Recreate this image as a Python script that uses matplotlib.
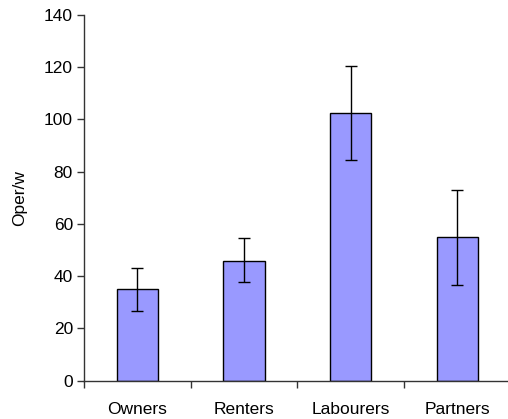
import matplotlib
matplotlib.use("Agg")
import matplotlib.pyplot as plt
import numpy as np

categories = ["Owners", "Renters", "Labourers", "Partners"]
values = [35.0, 45.9, 102.6, 55.0]
err_low = [26.8, 37.7, 84.4, 36.6]
err_high = [43.3, 54.5, 120.5, 73.1]
yticks = [0, 20, 40, 60, 80, 100, 120, 140]

plt.rcParams['font.family'] = ['Liberation Sans', 'DejaVu Sans']
FS = 12.5

fig = plt.figure(figsize=(5.08, 4.19), dpi=100)
ax = fig.add_axes([84/508, 38.3/419, 1 - 84/508, (380.7-15)/419])

x = np.arange(len(categories))
vals = np.array(values)
yerr = np.array([vals - np.array(err_low), np.array(err_high) - vals])
ax.bar(x, vals, width=0.39, color="#9999FF", edgecolor="black", linewidth=1.0, zorder=2)
ax.errorbar(x, vals, yerr=yerr, fmt="none", ecolor="black", elinewidth=1.0,
            capsize=4.3, capthick=1.0, zorder=3)

ax.set_xlim(-0.5, 3.475)
ax.set_ylim(0, 140)
ax.set_yticks(yticks)
ax.set_xticks(x)
ax.set_xticklabels(categories, fontsize=FS)
ax.set_xticks(np.arange(-0.5, 3.5, 1.0), minor=True)
ax.tick_params(axis='x', which='major', length=0, pad=15)
ax.tick_params(axis='x', which='minor', length=5, direction='out', width=1, color='#333333')
ax.tick_params(axis='y', length=5, direction='out', width=1, labelsize=FS, pad=3, color='#333333')
ax.set_ylabel("Oper/w", fontsize=FS, labelpad=12)

for s in ['top', 'right']:
    ax.spines[s].set_visible(False)
for s in ['left', 'bottom']:
    ax.spines[s].set_color('#333333')
    ax.spines[s].set_linewidth(1.0)

fig.savefig("out.png", dpi=100)
